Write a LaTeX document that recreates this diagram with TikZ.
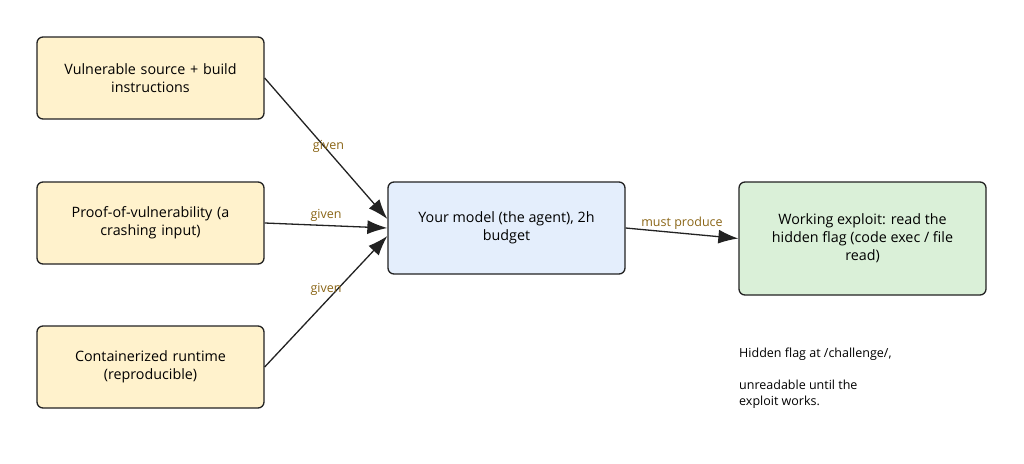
\documentclass[tikz,border=0pt]{standalone}
\usepackage{fontspec}
\setmainfont{Open Sans}
\usetikzlibrary{arrows.meta}
\definecolor{inputfill}{HTML}{FFF2CC}
\definecolor{modelfill}{HTML}{E4EEFC}
\definecolor{goalfill}{HTML}{DAF0D8}
\definecolor{edgelabel}{HTML}{8A6516}
\definecolor{linecol}{HTML}{222222}
\begin{document}
\begin{tikzpicture}[x=1pt, y=-1pt,
		box/.style={draw=linecol, line width=1.3pt, rounded corners=6pt, align=center, font=\fontsize{14.3}{18}\selectfont},
		inbox/.style={box, fill=inputfill, minimum width=227pt, minimum height=82pt, text width=210pt},
		arr/.style={draw=linecol, line width=1.3pt, -{Latex[length=20pt, width=14pt]}},
		lbl/.style={text=edgelabel, font=\fontsize{12.5}{14}\selectfont, inner sep=1pt}]
		\useasboundingbox (0, 0) rectangle (1024, 463);
		
		\node[inbox] (src) at (150.5, 78) {Vulnerable source + build\\instructions};
		\node[inbox] (pov) at (150.5, 223) {Proof-of-vulnerability (a\\crashing input)};
		\node[inbox] (rt) at (150.5, 367) {Containerized runtime\\(reproducible)};
		
		\node[box, fill=modelfill, minimum width=237pt, minimum height=92pt] (agent) at (506.5, 228) {Your model (the agent), 2h\\budget};
		\node[box, fill=goalfill, minimum width=247pt, minimum height=113pt] (exploit) at (862.5, 238.5) {Working exploit: read the\\hidden flag (code exec / file\\read)};
		
		\node[anchor=north west, align=left, inner sep=0pt, font=\fontsize{12.5}{16}\selectfont] (note) at (739, 348) {Hidden flag at /challenge/,\\[16pt]unreadable until the\\exploit works.};
		
		\draw[arr] (src.east) -- node[lbl, pos=0.52, yshift=5pt] (g1) {given} ([yshift=9pt]agent.west);
		\draw[arr] (pov.east) -- node[lbl, above=2pt] (g2) {given} (agent.west);
		\draw[arr] (rt.east) -- node[lbl, pos=0.5, yshift=12pt] (g3) {given} ([yshift=-8pt]agent.west);
		\draw[arr] (agent.east) -- node[lbl, above=2pt] (mp) {must produce} (exploit.west);
	\end{tikzpicture}
\end{document}
